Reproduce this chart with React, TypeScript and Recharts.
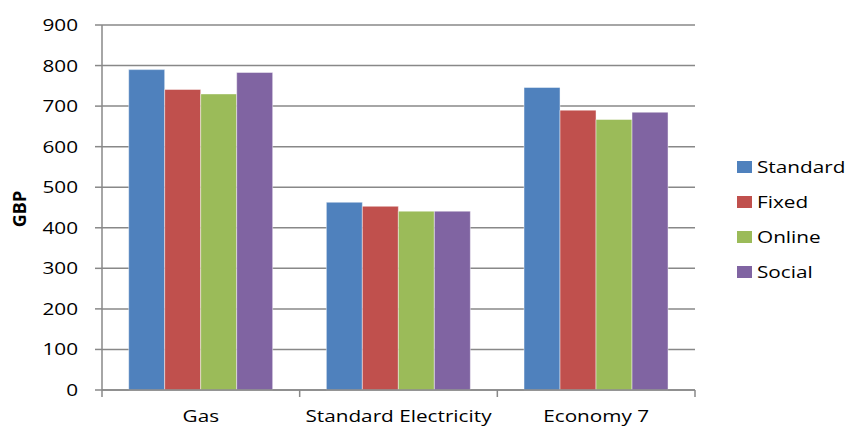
import React from 'react';
import { BarChart, Bar, XAxis, YAxis, CartesianGrid } from 'recharts';

const categories = ['Gas', 'Standard Electricity', 'Economy 7'];
const standard = [790, 463, 746];
const fixed = [741, 453, 690];
const online = [730, 441, 667];
const social = [783, 441, 685];
const yTicks = [0, 100, 200, 300, 400, 500, 600, 700, 800, 900];

const series = [
  { key: 'Standard', values: standard, color: '#4F81BD' },
  { key: 'Fixed', values: fixed, color: '#C0504D' },
  { key: 'Online', values: online, color: '#9BBB59' },
  { key: 'Social', values: social, color: '#8064A2' },
];

const data = categories.map((name, i) => {
  const row: Record<string, string | number> = { name };
  series.forEach(s => { row[s.key] = s.values[i]; });
  return row;
});

const FONT = '"Open Sans", sans-serif';
const GRID = '#888888';
const STRETCH = 1.22; // the reference text is a little wide

const stretchAt = (x: number) => `translate(${x} 0) scale(${STRETCH} 1) translate(${-x} 0)`;

const CategoryTick = (props: any) => {
  const { x, y, payload, index, visibleTicksCount } = props;
  const half = payload?.offset ?? 98.5;
  const last = index === (visibleTicksCount ?? categories.length) - 1;
  const base = y - 8; // axis line
  return (
    <g>
      <line x1={x - half} x2={x - half} y1={base} y2={base + 7} stroke={GRID} strokeWidth={1.5} />
      {last && <line x1={x + half} x2={x + half} y1={base} y2={base + 7} stroke={GRID} strokeWidth={1.5} />}
      <text x={x} y={base + 32} textAnchor="middle" fill="#000" fontSize={17} fontFamily={FONT} transform={stretchAt(x)}>
        {payload.value}
      </text>
    </g>
  );
};

const ValueTick = (props: any) => {
  const { x, y, payload } = props;
  return (
    <text x={x} y={y + 6} textAnchor="end" fill="#000" fontSize={17} fontFamily={FONT} transform={stretchAt(x)}>
      {payload.value}
    </text>
  );
};

export default function App() {
  return (
    <div style={{ position: 'absolute', left: 0, top: 0, width: 845, height: 426, background: '#fff', overflow: 'hidden' }}>
      <BarChart
        width={845}
        height={426}
        data={data}
        margin={{ top: 25, right: 150, bottom: 0, left: 0 }}
        barCategoryGap="13.5%"
        barGap={0}
      >
        <CartesianGrid vertical={false} stroke={GRID} strokeWidth={1.5} />
        <XAxis
          dataKey="name"
          height={36}
          stroke={GRID}
          strokeWidth={1.5}
          tickLine={false}
          tick={<CategoryTick />}
          interval={0}
        />
        <YAxis
          width={102}
          domain={[0, 900]}
          ticks={yTicks}
          stroke={GRID}
          strokeWidth={1.5}
          tickSize={7}
          tickMargin={17}
          tick={<ValueTick />}
        />
        {series.map(s => (
          <Bar
            key={s.key}
            dataKey={s.key}
            fill={s.color}
            stroke="rgba(255,255,255,0.45)"
            strokeWidth={1}
            isAnimationActive={false}
          />
        ))}
      </BarChart>
      <div
        style={{
          position: 'absolute', left: 19, top: 209, transform: 'translate(-50%, -50%) rotate(-90deg)',
          fontFamily: FONT, fontSize: 18, fontWeight: 'bold', color: '#000', whiteSpace: 'nowrap', lineHeight: 1,
        }}
      >
        GBP
      </div>
      <div style={{ position: 'absolute', left: 737, top: 149, fontFamily: FONT, fontSize: 17, color: '#000' }}>
        {series.map(s => (
          <div key={s.key} style={{ display: 'flex', alignItems: 'center', height: 35 }}>
            <span style={{ display: 'inline-block', width: 15, height: 12, background: s.color, marginRight: 5 }} />
            <span style={{ display: 'inline-block', transform: `scaleX(${STRETCH})`, transformOrigin: 'left center' }}>{s.key}</span>
          </div>
        ))}
      </div>
    </div>
  );
}
